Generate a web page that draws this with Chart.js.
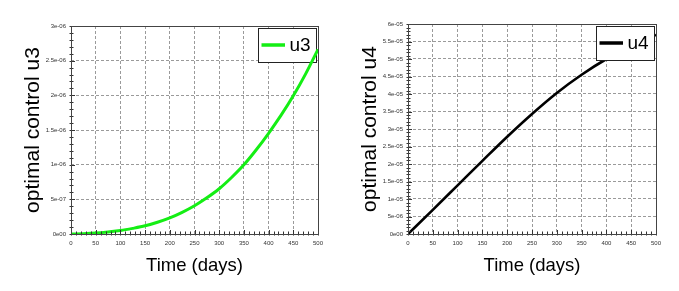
<!DOCTYPE html>
<html>
<head>
<meta charset="utf-8">
<script src="https://cdn.jsdelivr.net/npm/chart.js@4/dist/chart.umd.min.js"></script>
<style>
  html, body { margin: 0; padding: 0; background: #ffffff; }
  #wrap { position: relative; width: 679px; height: 291px; overflow: hidden; background: #fff; }
  .cell { position: absolute; top: 0; }
</style>
</head>
<body>
<div id="wrap">
  <div class="cell" style="left:0px;"><canvas id="c3" width="340" height="291"></canvas></div>
  <div class="cell" style="left:340px;"><canvas id="c4" width="339" height="291"></canvas></div>
</div>
<script>
// ---- data ----
const days = [0, 25, 50, 75, 100, 125, 150, 175, 200, 225, 250, 275, 300, 325, 350, 375, 400, 425, 450, 475, 500];
const u3Values = [0, 0.005e-6, 0.014e-6, 0.03e-6, 0.05e-6, 0.081e-6, 0.118e-6, 0.17e-6, 0.233e-6, 0.313e-6, 0.408e-6, 0.522e-6, 0.653e-6, 0.815e-6, 0.998e-6, 1.215e-6, 1.453e-6, 1.71e-6, 1.993e-6, 2.31e-6, 2.663e-6];
const u4Days = [0, 50, 100, 150, 200, 250, 300, 350, 400, 450, 500];
const u4Values = [0, 0.69e-5, 1.39e-5, 2.09e-5, 2.78e-5, 3.43e-5, 4.03e-5, 4.55e-5, 5.0e-5, 5.37e-5, 5.69e-5];
const xTickLabels = ["0", "50", "100", "150", "200", "250", "300", "350", "400", "450", "500"];
const u3TickLabels = ["0e00", "5e-07", "1e-06", "1.5e-06", "2e-06", "2.5e-06", "3e-06"];
const u4TickLabels = ["0e00", "5e-06", "1e-05", "1.5e-05", "2e-05", "2.5e-05", "3e-05", "3.5e-05", "4e-05", "4.5e-05", "5e-05", "5.5e-05", "6e-05"];

const FONT = "'Liberation Sans', Arial, sans-serif";

// frame + minor ticks + boxed legend
const framePlugin = {
  id: 'frameAndLegend',
  beforeDatasetsDraw(chart, args, opts) {
    if (!opts.legendOnTop) drawLegend(chart, opts);
  },
  afterDatasetsDraw(chart, args, opts) {
    const ctx = chart.ctx, a = chart.chartArea;
    const xs = chart.scales.x, ys = chart.scales.y;
    ctx.save();
    ctx.strokeStyle = '#333';
    ctx.lineWidth = 1;
    ctx.beginPath();
    for (let v = xs.min; v <= xs.max + 1e-9; v += opts.xMinor) {
      const px = Math.round(xs.getPixelForValue(v)) + 0.5;
      const major = Math.abs((v / opts.xMajor) - Math.round(v / opts.xMajor)) < 1e-6;
      const up = major ? 4 : 2.5;
      ctx.moveTo(px, a.bottom + 1.5);
      ctx.lineTo(px, a.bottom - up);
    }
    for (let v = ys.min; v <= ys.max * (1 + 1e-9); v += opts.yMinor) {
      const py = Math.round(ys.getPixelForValue(v)) + 0.5;
      const major = Math.abs((v / opts.yMajor) - Math.round(v / opts.yMajor)) < 1e-6;
      const inw = major ? 4 : 2.5;
      ctx.moveTo(a.left - 1.5, py);
      ctx.lineTo(a.left + inw, py);
    }
    ctx.stroke();
    ctx.strokeStyle = '#444';
    ctx.strokeRect(Math.round(a.left) + 0.5, Math.round(a.top) + 0.5, Math.round(a.right - a.left), Math.round(a.bottom - a.top));
    ctx.restore();
    if (opts.legendOnTop) drawLegend(chart, opts);
  }
};

function drawLegend(chart, opts) {
  const ctx = chart.ctx, a = chart.chartArea;
  const ds = chart.data.datasets[0];
  const w = 58, h = 34;
  const x = a.right - opts.legInsetRight - w;
  const y = a.top + opts.legInsetTop;
  ctx.save();
  ctx.fillStyle = '#fff';
  ctx.fillRect(x, y, w, h);
  ctx.strokeStyle = '#222';
  ctx.lineWidth = 1;
  ctx.strokeRect(Math.round(x) + 0.5, Math.round(y) + 0.5, w, h);
  ctx.strokeStyle = ds.borderColor;
  ctx.lineWidth = 3.5;
  ctx.beginPath();
  ctx.moveTo(x + 3.5, y + h / 2);
  ctx.lineTo(x + 27, y + h / 2);
  ctx.stroke();
  ctx.fillStyle = '#000';
  ctx.font = '19px ' + FONT;
  ctx.textBaseline = 'middle';
  ctx.textAlign = 'left';
  ctx.fillText(ds.label, x + 31.5, y + h / 2 + 1);
  ctx.restore();
}

function makeChart(id, xs, ys, label, color, lw, yMax, yStep, yLabels, yMinor, yAxisW, padRight, padTop, yTitlePad, legendOnTop) {
  const pts = xs.map((d, i) => ({ x: d, y: ys[i] }));
  return new Chart(document.getElementById(id), {
    type: 'line',
    data: {
      datasets: [{
        label: label,
        data: pts,
        borderColor: color,
        borderWidth: lw,
        pointRadius: 0,
        fill: false,
        cubicInterpolationMode: 'monotone'
      }]
    },
    options: {
      responsive: false,
      animation: false,
      layout: { padding: { left: 0, right: padRight, top: padTop, bottom: 0 } },
      plugins: {
        legend: { display: false },
        tooltip: { enabled: false },
        frameAndLegend: {
          xMinor: 10, xMajor: 50, yMinor: yMinor, yMajor: yStep,
          legInsetRight: 2, legInsetTop: 2, legendOnTop: legendOnTop
        }
      },
      scales: {
        x: {
          type: 'linear', min: 0, max: 500,
          afterFit: s => { s.height = 57; },
          border: { display: false, dash: [3, 2] },
          grid: { color: '#9a9a9a', lineWidth: 1, drawTicks: false },
          ticks: {
            stepSize: 50, autoSkip: false, maxRotation: 0, padding: 6,
            color: '#333', font: { size: 6, family: FONT },
            callback: (v, i) => xTickLabels[i]
          },
          title: {
            display: true, text: 'Time (days)', color: '#000',
            font: { size: 18.5, family: FONT }, padding: { top: 0, bottom: 14 }
          }
        },
        y: {
          type: 'linear', min: 0, max: yMax,
          afterFit: s => { s.width = yAxisW; },
          border: { display: false, dash: [3, 2] },
          grid: { color: '#9a9a9a', lineWidth: 1, drawTicks: false },
          ticks: {
            stepSize: yStep, autoSkip: false, padding: 5,
            color: '#333', font: { size: 6, family: FONT },
            callback: (v, i) => yLabels[i]
          },
          title: {
            display: true, text: 'optimal control ' + label, color: '#000',
            font: { size: 21, family: FONT }, padding: { top: yTitlePad, bottom: 0 }
          }
        }
      }
    },
    plugins: [framePlugin]
  });
}

makeChart('c3', days, u3Values, 'u3', '#14ee14', 3, 3e-6, 5e-7, u3TickLabels, 1e-7, 71, 22, 26, 21, false);
makeChart('c4', u4Days, u4Values, 'u4', '#000000', 2.6, 6e-5, 5e-6, u4TickLabels, 1e-6, 68, 23, 24, 18, true);
</script>
</body>
</html>
